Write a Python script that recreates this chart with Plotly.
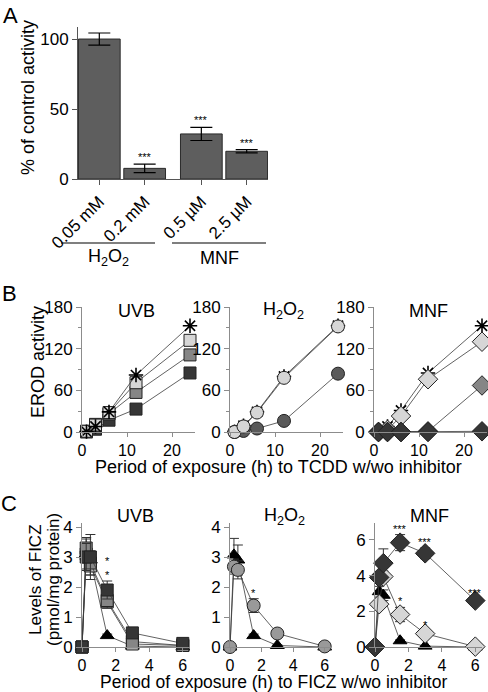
import plotly.graph_objects as go

W, H = 488, 692
FONT = "Arial, Liberation Sans, sans-serif"

# ---------------- Panel A data ----------------
a_labels = ["0.05 mM", "0.2 mM", "0.5 µM", "2.5 µM"]
a_groups = ["H<sub>2</sub>O<sub>2</sub>", "MNF"]
a_group_of = [0, 0, 1, 1]
a_values = [100, 7.6, 32.2, 19.8]
a_errors = [4.3, 3.0, 4.7, 1.2]
a_sig = ["", "***", "***", "***"]

# ---------------- Panel B data (EROD activity) ----------------
b_time = [1, 3, 6, 12, 24]
b_uvb_ctrl = [0.5, 8, 29, 82, 153]
b_uvb_light = [1, 10, 28, 71, 132]
b_uvb_mid = [1, 11, 26, 57, 111]
b_uvb_dark = [0, 4, 17, 33, 85]
b_h2o2_ctrl = [0.5, 9, 29, 80, 153]
b_h2o2_light = [0, 8, 28, 78, 152]
b_h2o2_dark = [0, 1.5, 5, 16, 84]
b_mnf_ctrl = [0.5, 8, 31, 85, 153]
b_mnf_light = [0, 3, 23, 76, 130]
b_mnf_mid = [0, 0, 0, 1, 67]
b_mnf_dark = [0, 0, 0, 0, 1]

# ---------------- Panel C data (FICZ levels) ----------------
c_time = [0, 0.25, 0.5, 1.5, 3, 6]
c_uvb_ctrl = [0, 3.1, 2.9, 0.38, 0.03, 0]
c_uvb_ctrl_err = [0, 0.3, 0.3, 0.05, 0.02, 0]
c_uvb_light = [0, 3.1, 2.7, 1.5, 0.1, 0.05]
c_uvb_light_err = [0, 0.5, 0.3, 0.2, 0.05, 0.02]
c_uvb_mid = [0, 3.3, 2.8, 1.55, 0.18, 0.05]
c_uvb_mid_err = [0, 0.35, 0.4, 0.25, 0.05, 0.02]
c_uvb_dark = [0, 3.0, 3.0, 1.9, 0.47, 0.12]
c_uvb_dark_err = [0, 0.45, 0.75, 0.3, 0.1, 0.03]
c_uvb_sig = ["", "", "", "*<br>*", "", ""]

c_h2o2_ctrl = [0, 3.07, 2.9, 0.38, 0.05, 0]
c_h2o2_ctrl_err = [0, 0.55, 0.5, 0.05, 0.02, 0]
c_h2o2_circ = [0, 2.68, 2.57, 1.38, 0.45, 0.02]
c_h2o2_circ_err = [0, 0.25, 0.3, 0.23, 0.05, 0.02]
c_h2o2_sig = ["", "", "", "*", "", ""]

c_mnf_ctrl = [0, 3.1, 2.9, 0.35, 0.05, 0]
c_mnf_ctrl_err = [0, 0.3, 0.3, 0.05, 0.02, 0]
c_mnf_dark = [0, 3.9, 4.7, 5.85, 5.25, 2.6]
c_mnf_dark_err = [0, 0.3, 0.8, 0.45, 0.3, 0.1]
c_mnf_dark_sig = ["", "", "", "***", "***", "***"]
c_mnf_light = [0, 2.4, 3.95, 1.82, 0.75, 0.02]
c_mnf_light_err = [0, 0.2, 0.3, 0.4, 0.15, 0.02]
c_mnf_light_sig = ["", "", "", "*", "*", ""]


def px(x):
    return x / W


def py(y):
    return 1 - y / H


AX = "#8c8c8c"
LINE = "#3a3a3a"
LIGHT = "#d6d6d6"
MID = "#868686"
DARK = "#363636"

fig = go.Figure()
annotations = []
shapes = []

# ---------------- Panel A ----------------
a_pos = [i + 0.25 * g for i, g in enumerate(a_group_of)]
fig.add_trace(go.Bar(
    x=a_pos, y=a_values, width=0.92,
    marker=dict(color="#5e5e5e", line=dict(color="#2a2a2a", width=1)),
    error_y=dict(type="data", array=a_errors, color="black", thickness=1.2, width=11),
    xaxis="x", yaxis="y", showlegend=False,
))
for p, v, e, s in zip(a_pos, a_values, a_errors, a_sig):
    if s:
        annotations.append(dict(x=p, y=v + e, xref="x", yref="y", text=s, showarrow=False,
                                xanchor="center", yanchor="bottom", yshift=-1,
                                font=dict(size=11, color="black", family=FONT)))
group_line_px = [(61, 155), (172, 266)]
for name, (gx0, gx1) in zip(a_groups, group_line_px):
    shapes.append(dict(type="line", xref="paper", yref="paper", x0=px(gx0), x1=px(gx1),
                       y0=py(243), y1=py(243), line=dict(color="black", width=1.2)))
    annotations.append(dict(x=px((gx0 + gx1) / 2), y=py(258), xref="paper", yref="paper", text=name,
                            showarrow=False, xanchor="center", yanchor="middle",
                            font=dict(size=18, color="black", family=FONT)))


def mk_line(x, y, xa, ya, symbol, color, size, err=None, lw=1.0, lcolor="#222"):
    d = dict(x=x, y=y, mode="lines+markers", xaxis=xa, yaxis=ya, showlegend=False, cliponaxis=False,
             line=dict(color=LINE, width=0.8),
             marker=dict(symbol=symbol, color=color, size=size, line=dict(color=lcolor, width=lw)))
    if err is not None:
        d["error_y"] = dict(type="data", array=err, color="#333", thickness=1, width=5)
    fig.add_trace(go.Scatter(**d))


# ---------------- Panel B ----------------
mk_line(b_time, b_uvb_dark, "x2", "y2", "square", DARK, 12)
mk_line(b_time, b_uvb_mid, "x2", "y2", "square", MID, 12)
mk_line(b_time, b_uvb_light, "x2", "y2", "square", LIGHT, 12)
mk_line(b_time, b_uvb_ctrl, "x2", "y2", "asterisk-open", "black", 12, lw=1.6, lcolor="black")

mk_line(b_time, b_h2o2_ctrl, "x3", "y3", "asterisk-open", "black", 12, lw=1.6, lcolor="black")
mk_line(b_time, b_h2o2_dark, "x3", "y3", "circle", "#5a5a5a", 13)
mk_line(b_time, b_h2o2_light, "x3", "y3", "circle", LIGHT, 13)

mk_line(b_time, b_mnf_ctrl, "x4", "y4", "asterisk-open", "black", 12, lw=1.6, lcolor="black")
mk_line(b_time, b_mnf_light, "x4", "y4", "diamond", LIGHT, 15)
mk_line(b_time, b_mnf_mid, "x4", "y4", "diamond", MID, 15)
mk_line(b_time, b_mnf_dark, "x4", "y4", "diamond", DARK, 15)

# ---------------- Panel C ----------------
mk_line(c_time, c_uvb_ctrl, "x5", "y5", "triangle-up", "black", 12, err=c_uvb_ctrl_err, lcolor="black")
mk_line(c_time, c_uvb_light, "x5", "y5", "square", "#b8b8b8", 12, err=c_uvb_light_err)
mk_line(c_time, c_uvb_mid, "x5", "y5", "square", MID, 12, err=c_uvb_mid_err)
mk_line(c_time, c_uvb_dark, "x5", "y5", "square", DARK, 12, err=c_uvb_dark_err)

mk_line(c_time, c_h2o2_ctrl, "x6", "y6", "triangle-up", "black", 12, err=c_h2o2_ctrl_err, lcolor="black")
mk_line(c_time, c_h2o2_circ, "x6", "y6", "circle", "#999999", 13, err=c_h2o2_circ_err)

mk_line(c_time, c_mnf_ctrl, "x7", "y7", "triangle-up", "black", 12, err=c_mnf_ctrl_err, lcolor="black")
mk_line(c_time, c_mnf_light, "x7", "y7", "diamond", LIGHT, 15, err=c_mnf_light_err)
mk_line(c_time, c_mnf_dark, "x7", "y7", "diamond", DARK, 15, err=c_mnf_dark_err)


def add_sig(t, vals, errs, sig, xa, ya):
    for ti, v, e, s in zip(t, vals, errs, sig):
        if s:
            annotations.append(dict(x=ti, y=v + e, xref=xa, yref=ya, text=s, showarrow=False,
                                    xanchor="center", yanchor="bottom", yshift=-2,
                                    font=dict(size=11, color="black", family=FONT)))


add_sig(c_time, c_uvb_dark, c_uvb_dark_err, c_uvb_sig, "x5", "y5")
add_sig(c_time, c_h2o2_circ, c_h2o2_circ_err, c_h2o2_sig, "x6", "y6")
add_sig(c_time, c_mnf_dark, c_mnf_dark_err, c_mnf_dark_sig, "x7", "y7")
add_sig(c_time, c_mnf_light, c_mnf_light_err, c_mnf_light_sig, "x7", "y7")

# ---------------- Axes ----------------
tickfont = dict(size=17, color="black", family=FONT)
xtickfont = dict(size=16, color="black", family=FONT)


def xax(dom, rng, tickvals, anchor, color=AX, **kw):
    d = dict(domain=[px(dom[0]), px(dom[1])], range=rng, tickvals=tickvals, anchor=anchor,
             showline=True, linecolor=color, linewidth=1, ticks="outside", ticklen=5, tickcolor=color,
             showgrid=False, zeroline=False, tickfont=tickfont, fixedrange=True, automargin=False)
    d.update(kw)
    return d


def yax(dom, rng, tickvals, anchor, color=AX, **kw):
    d = dict(domain=[py(dom[1]), py(dom[0])], range=rng, tickvals=tickvals, anchor=anchor,
             showline=True, linecolor=color, linewidth=1, ticks="outside", ticklen=5, tickcolor=color,
             showgrid=False, zeroline=False, tickfont=tickfont, fixedrange=True, automargin=False)
    d.update(kw)
    return d


layout = dict(
    template="none",
    width=W, height=H, margin=dict(l=0, r=0, t=0, b=0, pad=0, autoexpand=False),
    paper_bgcolor="white", plot_bgcolor="white", font=dict(family=FONT, color="black"),
    showlegend=False,
    xaxis=xax((78, 268), [-0.47, 3.72], a_pos, "y", color="#555",
              ticktext=a_labels, tickangle=-45),
    yaxis=yax((27, 179), [0, 108.6], [0, 50, 100], "x", color="#555"),
)
minorB = dict(ticks="outside", ticklen=3, dtick=30, tick0=0, tickcolor=AX)
b_dom = [(82, 194.5), (230, 342.5), (374, 486.5)]
for i, dom in enumerate(b_dom):
    n = i + 2
    layout[f"xaxis{n}"] = xax(dom, [0, 25], [0, 10, 20], f"y{n}", ticklen=4, tickfont=xtickfont)
    layout[f"yaxis{n}"] = yax((307, 432), [0, 180], [0, 60, 120, 180], f"x{n}", minor=minorB)
c_dom = [(82, 189.5), (230, 331), (375, 482)]
for i, dom in enumerate(c_dom):
    n = i + 5
    layout[f"xaxis{n}"] = xax(dom, [0, 6.4], [0, 2, 4, 6], f"y{n}", ticklen=4, tickfont=xtickfont)
    if i < 2:
        layout[f"yaxis{n}"] = yax((522.5, 647), [0, 4.15], [0, 1, 2, 3, 4], f"x{n}")
    else:
        layout[f"yaxis{n}"] = yax((523, 647), [0, 6.95], [0, 2, 4, 6], f"x{n}")


def label(x, y, text, size=18, angle=0):
    annotations.append(dict(x=px(x), y=py(y), xref="paper", yref="paper", text=text, showarrow=False,
                            textangle=angle, xanchor="center", yanchor="middle",
                            font=dict(size=size, color="black", family=FONT)))


label(10, 15, "A", 22)
label(9, 293, "B", 22)
label(9, 503, "C", 22)
label(28, 98, "% of control activity", 18, -90)
label(38, 362, "EROD activity", 18, -90)
label(35, 580, "Levels of FICZ", 17, -90)
label(53, 580, "(pmol/mg protein)", 17, -90)
label(278, 467, "Period of exposure (h) to TCDD w/wo inhibitor", 18)
label(273, 682, "Period of exposure (h) to FICZ w/wo inhibitor", 17.5)
for cx, t in zip([136, 283, 428], ["UVB", "H<sub>2</sub>O<sub>2</sub>", "MNF"]):
    label(cx, 311, t, 18)
for cx, t in zip([135, 284, 429], ["UVB", "H<sub>2</sub>O<sub>2</sub>", "MNF"]):
    label(cx, 516, t, 18)

layout["annotations"] = annotations
layout["shapes"] = shapes
fig.update_layout(**layout)
fig.write_html("out.html", config={"displayModeBar": False},
               post_script="document.body.style.margin='0';document.body.style.overflow='hidden';")
